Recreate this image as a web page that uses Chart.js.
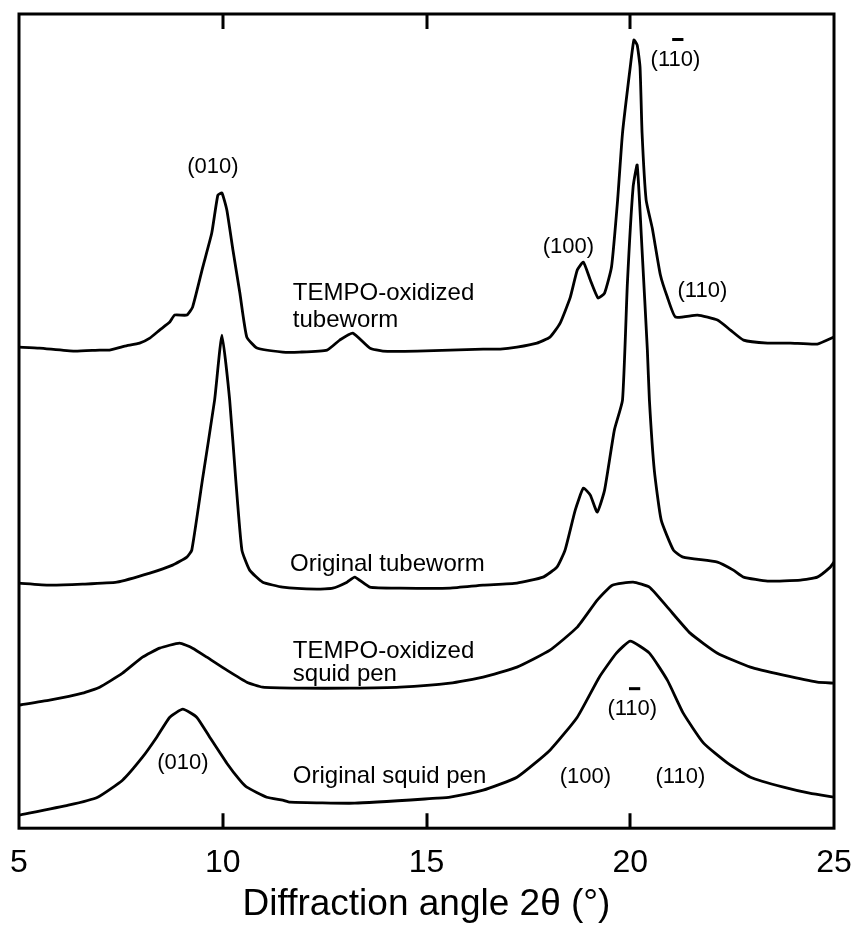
<!DOCTYPE html>
<html><head><meta charset="utf-8">
<script src="https://cdn.jsdelivr.net/npm/chart.js@4/dist/chart.umd.min.js"></script>
<style>html,body{margin:0;padding:0;background:#fff}canvas{display:block}</style>
</head><body>
<canvas id="c" width="857" height="932"></canvas>
<script>
// X-axis tick labels (2θ, degrees)
const xTickValues = [5, 10, 15, 20, 25];

// Intensities (arbitrary units, curves stacked as in the figure)
const tempoTubewormX = [5.00,5.50,6.36,6.98,7.22,7.59,7.96,8.21,8.45,8.70,8.82,9.12,9.26,9.51,9.73,9.88,9.98,10.10,10.25,10.42,10.59,10.84,11.47,11.89,12.56,12.87,13.19,13.61,13.93,14.77,15.58,16.39,16.81,17.22,17.71,18.03,18.28,18.53,18.70,18.85,19.02,19.21,19.37,19.54,19.69,19.81,20.00,20.09,20.17,20.24,20.29,20.39,20.54,20.74,20.91,21.11,21.65,22.14,22.46,22.78,23.37,23.93,24.59,25.00];
const tempoTubewormY = [481,480,477,478,478,482,485,490,498,506,513,513,521,561,595,633,635,618,578,535,491,480,476,476,478,488,495,480,477,477,478,479,479,481,485,491,505,531,558,566,548,530,535,561,628,695,761,788,783,761,695,628,600,553,531,511,513,508,498,488,485,485,484,491];

const origTubewormX = [5.00,5.75,6.56,7.40,8.21,8.77,9.12,9.24,9.50,9.80,9.98,10.17,10.32,10.47,10.66,10.98,11.47,12.31,12.70,13.05,13.24,13.61,14.35,15.58,16.39,17.22,17.86,18.20,18.40,18.65,18.85,19.02,19.19,19.37,19.61,19.81,19.93,20.07,20.17,20.29,20.42,20.47,20.59,20.76,21.06,21.30,22.14,22.53,22.78,23.37,24.18,24.59,24.91,25.00];
const origTubewormY = [245,243,244,246,255,263,271,278,348,428,493,428,348,278,258,246,241,239,240,246,251,241,240,240,243,245,251,261,278,318,340,333,316,338,398,428,545,641,663,578,478,428,358,308,278,271,266,258,251,247,248,251,261,266];

const tempoSquidX = [5.00,5.75,6.56,6.98,7.54,8.03,8.45,8.94,9.26,9.61,10.10,10.59,10.98,11.89,13.12,14.35,15.58,16.39,17.22,18.03,18.70,19.19,19.56,20.07,20.47,20.91,21.47,22.14,22.95,23.76,24.59,25.00];
const tempoSquidY = [123,128,135,141,155,171,180,185,180,171,158,146,141,140,140,141,145,151,161,178,201,228,243,246,241,221,195,175,161,153,146,145];

const origSquidX = [5.00,6.21,6.93,7.54,8.03,8.38,8.70,9.02,9.36,9.68,10.10,10.42,10.59,11.08,11.47,11.65,13.24,15.26,15.58,16.39,17.22,18.03,18.70,19.24,19.66,20.00,20.47,20.91,21.30,21.80,22.39,22.95,23.76,24.40,25.00];
const origSquidY = [13,23,31,48,71,91,111,119,111,91,65,48,41,31,28,26,25,30,31,38,51,78,111,151,175,187,175,148,115,85,65,51,41,35,31];

// Text annotations, placed in data coordinates
const labelTexts = ['(010)','TEMPO-oxidized','tubeworm','(100)','(110)','(110)','Original tubeworm','TEMPO-oxidized','squid pen','(110)','(010)','Original squid pen','(100)','(110)'];
const labelX = [9.76,11.72,11.72,18.48,21.77,21.11,11.65,11.72,11.72,20.05,9.02,11.72,18.90,21.23];
const labelY = [661,528,501,581,537,768,257,170,147,119,65,45,51,51];
const labelCentered = [true,false,false,true,true,true,false,false,false,true,true,false,true,true];
const labelBarred = [false,false,false,false,false,true,false,false,false,true,false,false,false,false];

const FONT = "'Liberation Sans', Arial, Helvetica, sans-serif";

function pts(xs, ys) { return xs.map((x, i) => ({x: x, y: ys[i]})); }
function ds(xs, ys) {
  return { data: pts(xs, ys), borderColor: '#000', borderWidth: 2.8, pointRadius: 0, tension: 0.15, fill: false };
}

const framePlugin = {
  id: 'frame',
  afterDatasetsDraw(chart) {
    const ctx = chart.ctx, a = chart.chartArea;
    const xs = chart.scales.x, ys = chart.scales.y;
    ctx.save();
    ctx.strokeStyle = '#000';
    ctx.lineWidth = 3;
    ctx.strokeRect(a.left, a.top, a.right - a.left, a.bottom - a.top);
    xTickValues.slice(1, -1).forEach(v => {
      const px = Math.round(xs.getPixelForValue(v));
      ctx.beginPath();
      ctx.moveTo(px, a.top); ctx.lineTo(px, a.top + 15);
      ctx.moveTo(px, a.bottom); ctx.lineTo(px, a.bottom - 15);
      ctx.stroke();
    });
    ctx.fillStyle = '#000';
    labelTexts.forEach((t, i) => {
      const px = xs.getPixelForValue(labelX[i]);
      const py = ys.getPixelForValue(labelY[i]);
      if (labelCentered[i]) {
        ctx.font = '22px ' + FONT;
        ctx.textAlign = 'center'; ctx.textBaseline = 'middle';
      } else {
        ctx.font = '24px ' + FONT;
        ctx.textAlign = 'left'; ctx.textBaseline = 'alphabetic';
      }
      ctx.fillText(t, px, py);
      if (labelBarred[i]) {
        const w = ctx.measureText(t).width;
        const left = px - w / 2 + ctx.measureText('(1').width;
        const cw = ctx.measureText('1').width;
        ctx.fillRect(left + 2, py - 22, cw - 1, 3);
      }
    });
    ctx.restore();
  }
};

new Chart(document.getElementById('c'), {
  type: 'line',
  data: {
    datasets: [
      ds(tempoTubewormX, tempoTubewormY),
      ds(origTubewormX, origTubewormY),
      ds(tempoSquidX, tempoSquidY),
      ds(origSquidX, origSquidY)
    ]
  },
  options: {
    responsive: false,
    devicePixelRatio: 1,
    animation: false,
    layout: { padding: { left: 19, right: 23, top: 14, bottom: 5 } },
    plugins: { legend: { display: false }, tooltip: { enabled: false } },
    scales: {
      x: {
        type: 'linear', min: 5, max: 25,
        afterBuildTicks: (s) => { s.ticks = xTickValues.map(v => ({ value: v })); },
        grid: { display: false, drawTicks: true, tickLength: 16 },
        border: { display: false },
        ticks: { color: '#000', padding: 0, maxRotation: 0, font: { family: FONT, size: 32 } },
        title: { display: true, text: 'Diffraction angle 2θ (°)', color: '#000', padding: 0, font: { family: FONT, size: 37 } }
      },
      y: { display: false, min: 0, max: 814 }
    }
  },
  plugins: [framePlugin]
});
</script>
</body></html>
